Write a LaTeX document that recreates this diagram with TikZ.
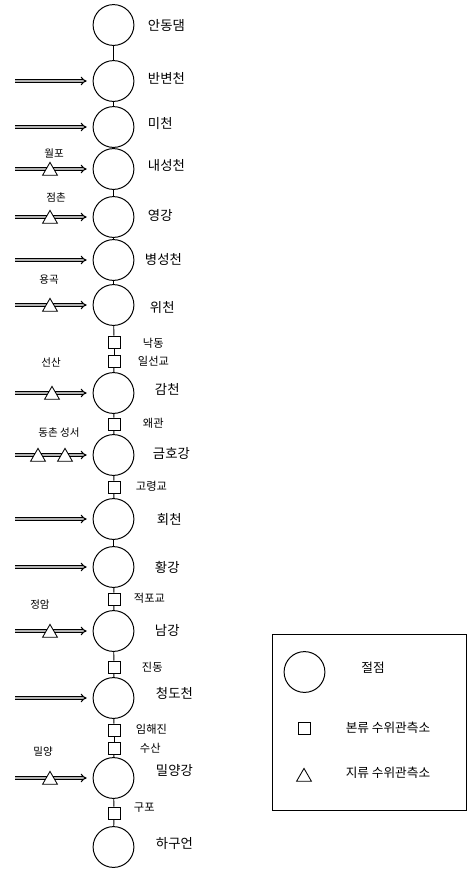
\documentclass[tikz,border=0pt]{standalone}
\usepackage{fontspec}
\setmainfont{Noto Sans CJK KR}
\usetikzlibrary{shapes.geometric,arrows.meta}

\begin{document}
\begin{tikzpicture}[x=0.025cm,y=-0.025cm,
        junction/.style={draw,circle,line width=0.7pt,minimum size=1.02cm,inner sep=0pt},
        gauge/.style={draw,rectangle,line width=0.6pt,minimum size=0.3cm,inner sep=0pt,fill=white},
        subgauge/.style={draw,regular polygon,regular polygon sides=3,line width=0.6pt,minimum size=0.43cm,inner sep=0pt,fill=white},
        inflow/.style={double=gray!60,double distance=1.2pt,line width=0.8pt,-{Implies},shorten >=0.15cm},
        bigname/.style={anchor=west,font=\fontsize{9.5}{10}\selectfont},
        smallname/.style={anchor=west,font=\fontsize{8}{9}\selectfont},
        gaugename/.style={font=\fontsize{7.5}{8}\selectfont}]
        \useasboundingbox (0,0) rectangle (473,871);

        % Draw the junctions of the main river
        \node[junction] (n1) at (113.5,25) {};
        \node[junction] (n2) at (113.5,81) {};
        \node[junction] (n3) at (113.5,127) {};
        \node[junction] (n4) at (113.5,169) {};
        \node[junction] (n5) at (113.5,217) {};
        \node[junction] (n6) at (113.5,260) {};
        \node[junction] (n7) at (113.5,305) {};
        \node[junction] (n8) at (113.5,393) {};
        \node[junction] (n9) at (113.5,455) {};
        \node[junction] (n10) at (113.5,519) {};
        \node[junction] (n11) at (113.5,567) {};
        \node[junction] (n12) at (113.5,631) {};
        \node[junction] (n13) at (113.5,698) {};
        \node[junction] (n14) at (113.5,778) {};
        \node[junction] (n15) at (113.5,847) {};

        % Draw the gauges on the main river
        \node[gauge] (s1) at (114,342) {};
        \node[gauge] (s2) at (114,361) {};
        \node[gauge] (s3) at (114,424) {};
        \node[gauge] (s4) at (114,487) {};
        \node[gauge] (s5) at (114,599) {};
        \node[gauge] (s6) at (114,667) {};
        \node[gauge] (s7) at (114,730) {};
        \node[gauge] (s8) at (114,748) {};
        \node[gauge] (s9) at (114,813) {};

        % Draw the main river
        \foreach \a/\b in {n1/n2,n2/n3,n3/n4,n4/n5,n5/n6,n6/n7,n7/s1,s1/s2,s2/n8,n8/s3,s3/n9,n9/s4,s4/n10,n10/n11,n11/s5,s5/n12,n12/s6,s6/n13,n13/s7,s7/s8,s8/n14,n14/s9,s9/n15}
            \draw[line width=0.6pt] (\a) -- (\b);

        % Draw the tributaries
        \foreach \t in {2,...,14}{
            \path (n\t.center) ++(-98.5,0) coordinate (a\t);
            \draw[inflow] (a\t) -- (n\t);
        }

        % Draw the gauges on the tributaries
        \node[subgauge] (t1) at (50,171) {};
        \node[subgauge] (t2) at (50,219) {};
        \node[subgauge] (t3) at (50,307) {};
        \node[subgauge] (t4) at (52,395) {};
        \node[subgauge] (t5) at (38,457) {};
        \node[subgauge] (t6) at (65,457) {};
        \node[subgauge] (t7) at (50,633) {};
        \node[subgauge] (t8) at (50,780) {};

        % Names of the junctions
        \node[bigname] (l1) at (143,25) {안동댐};
        \node[bigname] (l2) at (143,78) {반변천};
        \node[bigname] (l3) at (143,123) {미천};
        \node[bigname] (l4) at (143,165) {내성천};
        \node[bigname] (l5) at (143,215) {영강};
        \node[bigname] (l6) at (140,259) {병성천};
        \node[bigname] (l7) at (145,307) {위천};
        \node[bigname] (l8) at (150,389) {감천};
        \node[bigname] (l9) at (148,453) {금호강};
        \node[bigname] (l10) at (152,519) {회천};
        \node[bigname] (l11) at (150,567) {황강};
        \node[bigname] (l12) at (150,630) {남강};
        \node[bigname] (l13) at (151,693) {청도천};
        \node[bigname] (l14) at (151,770) {밀양강};
        \node[bigname] (l15) at (151,843) {하구언};

        % Names of the main river gauges
        \node[smallname] (g1) at (138,343) {낙동};
        \node[smallname] (g2) at (133,361) {일선교};
        \node[smallname] (g3) at (138,423) {왜관};
        \node[smallname] (g4) at (131,486) {고령교};
        \node[smallname] (g5) at (129,598) {적포교};
        \node[smallname] (g6) at (137,667) {진동};
        \node[smallname] (g7) at (131,729) {임해진};
        \node[smallname] (g8) at (135,748) {수산};
        \node[smallname] (g9) at (129,808) {구포};

        % Names of the tributary gauges
        \node[gaugename] (h1) at (54,153) {월포};
        \node[gaugename] (h2) at (56,197) {점촌};
        \node[gaugename] (h3) at (49,280) {용곡};
        \node[gaugename] (h4) at (51,362) {선산};
        \node[gaugename] (h5) at (59,433) {동촌 성서};
        \node[gaugename] (h6) at (40,605) {정암};
        \node[gaugename] (h7) at (43,752) {밀양};

        % Draw the legend
        \draw[line width=0.6pt] (272,634) rectangle (466,810);
        \node[junction] (k1) at (304.5,672) {};
        \node[gauge] (k2) at (304,728) {};
        \node[subgauge] (k3) at (304,777) {};
        \node[font=\fontsize{9}{10}\selectfont] (m1) at (373,668) {절점};
        \node[font=\fontsize{9}{10}\selectfont] (m2) at (388,728) {본류 수위관측소};
        \node[font=\fontsize{9}{10}\selectfont] (m3) at (388,773) {지류 수위관측소};
\end{tikzpicture}
\end{document}
